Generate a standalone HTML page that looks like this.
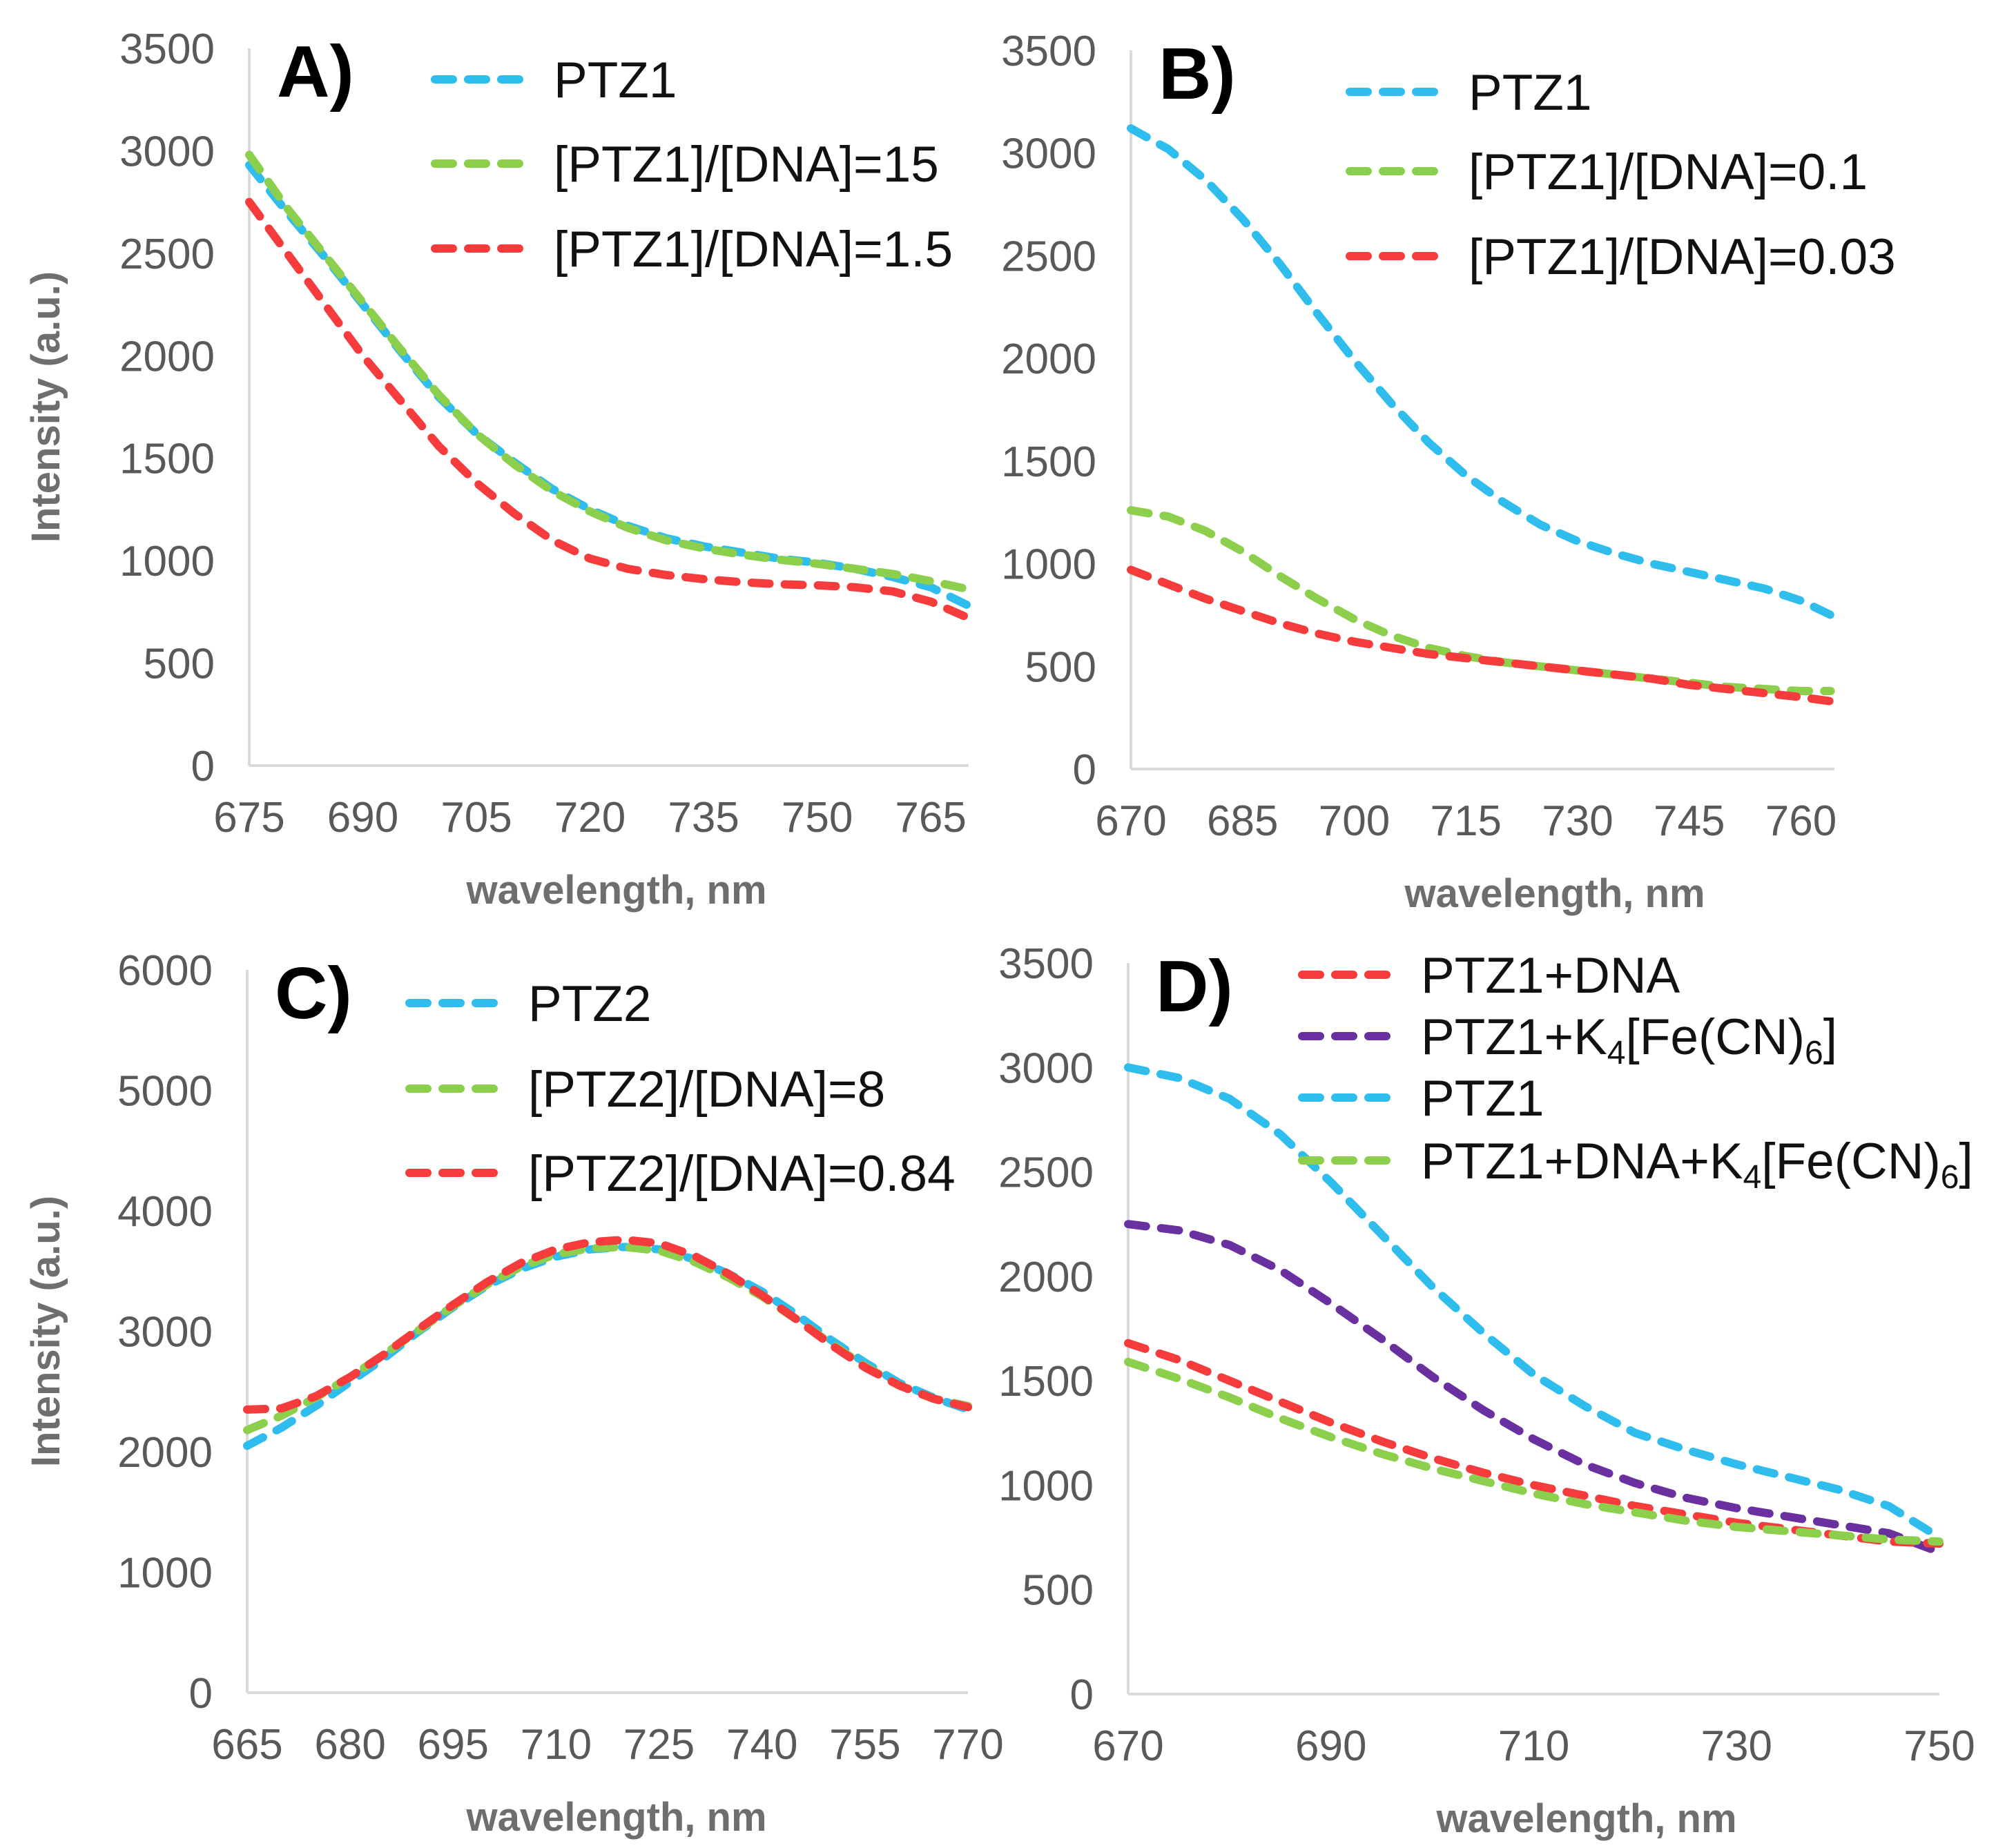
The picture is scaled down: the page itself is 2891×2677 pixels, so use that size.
<!DOCTYPE html>
<html><head><meta charset="utf-8">
<style>
html,body{margin:0;padding:0;background:#fff;}
svg{display:block;font-family:"Liberation Sans",Arial,sans-serif;}
.tick{fill:#595959;font-size:62px;}
.atitle{fill:#6e6e6e;font-size:58px;font-weight:bold;}
.leg{fill:#111;font-size:73px;}
.plabel{fill:#000;font-size:106px;font-weight:bold;}
</style></head>
<body>
<svg id="fig" width="2891" height="2677" viewBox="0 0 2891 2677" xmlns="http://www.w3.org/2000/svg"></svg>
<script>
// ---- Panel A data ----
const xA = [675,680,685,690,695,700,705,710,715,720,725,730,735,740,745,750,755,760,765,770];
const aPTZ1 = [2930,2700,2480,2250,2020,1800,1620,1480,1350,1250,1170,1110,1070,1040,1010,990,960,920,870,780];
const aR15 = [2980,2720,2490,2260,2030,1810,1620,1470,1340,1240,1160,1100,1060,1030,1005,985,960,935,900,860];
const aR1_5 = [2750,2500,2250,2000,1780,1560,1380,1230,1100,1010,960,930,910,895,885,880,870,850,800,720];
const ticksXA = [675,690,705,720,735,750,765];
const ticksYA = [0,500,1000,1500,2000,2500,3000,3500];
// ---- Panel B data ----
const xB = [670,675,680,685,690,695,700,705,710,715,720,725,730,735,740,745,750,755,760,764];
const bPTZ1 = [3120,3020,2870,2680,2460,2220,1990,1780,1590,1430,1300,1190,1110,1050,1000,960,920,880,820,750];
const bR01 = [1260,1230,1160,1060,940,830,730,650,590,550,520,500,480,460,440,420,400,390,380,380];
const bR003 = [970,900,830,770,710,660,620,590,560,540,520,500,480,460,440,410,390,370,350,330];
const ticksXB = [670,685,700,715,730,745,760];
const ticksYB = [0,500,1000,1500,2000,2500,3000,3500];
// ---- Panel C data ----
const xC = [665,670,675,680,685,690,695,700,705,710,715,720,725,730,735,740,745,750,755,760,765,770];
const cPTZ2 = [2050,2200,2380,2580,2780,3000,3200,3380,3520,3620,3680,3700,3680,3600,3480,3330,3140,2930,2740,2570,2450,2350];
const cR8 = [2180,2300,2450,2620,2810,3010,3210,3390,3540,3640,3690,3700,3670,3580,3450,3290,3100,2900,2710,2550,2440,2380];
const cR084 = [2350,2360,2460,2620,2810,3020,3220,3410,3570,3680,3740,3760,3730,3630,3480,3300,3100,2890,2700,2550,2440,2370];
const ticksXC = [665,680,695,710,725,740,755,770];
const ticksYC = [0,1000,2000,3000,4000,5000,6000];
// ---- Panel D data ----
const xD = [670,675,680,685,690,695,700,705,710,715,720,725,730,735,740,745,750];
const dPTZ1 = [3000,2950,2850,2680,2450,2200,1950,1730,1530,1380,1250,1170,1100,1040,980,900,750];
const dFe = [2250,2220,2150,2030,1870,1700,1520,1360,1220,1100,1010,940,890,850,810,770,680];
const dDNA = [1680,1600,1500,1400,1300,1210,1130,1060,1000,950,900,860,820,790,760,730,720];
const dDNAFe = [1590,1510,1420,1320,1230,1150,1080,1020,960,910,870,830,800,780,760,740,730];
const ticksXD = [670,690,710,730,750];
const ticksYD = [0,500,1000,1500,2000,2500,3000,3500];

const BLUE="#2fbdee", GREEN="#8ccf4d", RED="#f53b3b", PURPLE="#6a30a0";
const NS="http://www.w3.org/2000/svg";
const svg=document.getElementById('fig');
function mk(tag,attrs,parent){const e=document.createElementNS(NS,tag);for(const k in attrs)e.setAttribute(k,attrs[k]);(parent||svg).appendChild(e);return e;}

function panel(p){
  const g=mk('g',{});
  
  
  const sx=v=>p.left+(v-p.xmin)/(p.xmax-p.xmin)*(p.right-p.left);
  const sy=v=>p.bottom-(v-p.ymin)/(p.ymax-p.ymin)*(p.bottom-p.top);
  const ya=mk('line',{x1:p.left,y1:p.top,x2:p.left,y2:p.bottom,stroke:'#d9d9d9','stroke-width':4},g);
  
  
  const xa=mk('line',{x1:p.left,y1:p.bottom,x2:p.right,y2:p.bottom,stroke:'#d9d9d9','stroke-width':4},g);
  
  
  p.ty.forEach(v=>{
    const t=mk('text',{x:p.left-50,y:sy(v)+22,'text-anchor':'end',class:'tick'},g);
    t.textContent=v;
    
    
  });
  p.tx.forEach(v=>{
    const t=mk('text',{x:sx(v),y:p.bottom+96,'text-anchor':'middle',class:'tick'},g);
    t.textContent=v;
    
    
  });
  const xt=mk('text',{x:p.xtX,y:p.bottom+200,'text-anchor':'middle',class:'atitle'},g);
  xt.textContent='wavelength, nm';
  
  
  if(p.ytitle){
    const cy=(p.top+p.bottom)/2;
    const yt=mk('text',{x:86,y:cy,'text-anchor':'middle',class:'atitle',transform:'rotate(-90 86 '+cy+')'},g);
    yt.textContent='Intensity (a.u.)';
    
    
  }
  const lab=mk('text',{x:p.left+40,y:p.top+70,class:'plabel'},g);
  lab.textContent=p.label;
  
  
  p.series.forEach(s=>{
    const d=p.x.map((x,i)=>(i?'L':'M')+sx(x).toFixed(1)+','+sy(s.y[i]).toFixed(1)).join(' ');
    const path=mk('path',{d:d,fill:'none',stroke:s.c,'stroke-width':12,'stroke-dasharray':'26 22','stroke-linecap':'round','stroke-linejoin':'round'},g);
    
    
  });
  p.legend.forEach((s,i)=>{
    const y=p.legY[i];
    const ln=mk('line',{x1:p.legX,y1:y,x2:p.legX+144,y2:y,stroke:s.c,'stroke-width':12,'stroke-dasharray':'26 22','stroke-linecap':'round'},g);
    
    
    const t=mk('text',{x:p.legX+172,y:y+26,class:'leg'},g);
    t.innerHTML=s.name;
    
    
  });
}

const sub=n=>'K<tspan font-size="48" dy="14">4</tspan><tspan dy="-14">[Fe(CN)</tspan><tspan font-size="48" dy="14">6</tspan><tspan dy="-14">]</tspan>';

panel({id:'panel-a',label:'A)',left:361,right:1403,top:70,bottom:1109,xmin:675,xmax:770,ymin:0,ymax:3500,
  tx:ticksXA,ty:ticksYA,x:xA,xtX:893,ytitle:true,
  series:[{key:'ptz1',c:BLUE,y:aPTZ1},{key:'ratio-15',c:GREEN,y:aR15},{key:'ratio-1-5',c:RED,y:aR1_5}],
  legend:[{c:BLUE,name:'PTZ1'},{c:GREEN,name:'[PTZ1]/[DNA]=15'},{c:RED,name:'[PTZ1]/[DNA]=1.5'}],
  legX:630,legY:[115,237,360]});
panel({id:'panel-b',label:'B)',left:1638,right:2657,top:73,bottom:1114,xmin:670,xmax:764.5,ymin:0,ymax:3500,
  tx:ticksXB,ty:ticksYB,x:xB,xtX:2252,ytitle:false,
  series:[{key:'ptz1',c:BLUE,y:bPTZ1},{key:'ratio-0-1',c:GREEN,y:bR01},{key:'ratio-0-03',c:RED,y:bR003}],
  legend:[{c:BLUE,name:'PTZ1'},{c:GREEN,name:'[PTZ1]/[DNA]=0.1'},{c:RED,name:'[PTZ1]/[DNA]=0.03'}],
  legX:1955,legY:[133,248,371]});
panel({id:'panel-c',label:'C)',left:358,right:1402,top:1405,bottom:2452,xmin:665,xmax:770,ymin:0,ymax:6000,
  tx:ticksXC,ty:ticksYC,x:xC,xtX:893,ytitle:true,
  series:[{key:'ptz2',c:BLUE,y:cPTZ2},{key:'ratio-8',c:GREEN,y:cR8},{key:'ratio-0-84',c:RED,y:cR084}],
  legend:[{c:BLUE,name:'PTZ2'},{c:GREEN,name:'[PTZ2]/[DNA]=8'},{c:RED,name:'[PTZ2]/[DNA]=0.84'}],
  legX:593,legY:[1453,1577,1699]});
panel({id:'panel-d',label:'D)',left:1634,right:2809,top:1395,bottom:2454,xmin:670,xmax:750,ymin:0,ymax:3500,
  tx:ticksXD,ty:ticksYD,x:xD,xtX:2298,ytitle:false,
  series:[{key:'ptz1',c:BLUE,y:dPTZ1},{key:'ptz1-fe',c:PURPLE,y:dFe},{key:'ptz1-dna',c:RED,y:dDNA},{key:'ptz1-dna-fe',c:GREEN,y:dDNAFe}],
  legend:[{c:RED,name:'PTZ1+DNA'},{c:PURPLE,name:'PTZ1+'+sub()},{c:BLUE,name:'PTZ1'},{c:GREEN,name:'PTZ1+DNA+'+sub()}],
  legX:1886,legY:[1412,1501,1590,1681]});
</script>
</body></html>
